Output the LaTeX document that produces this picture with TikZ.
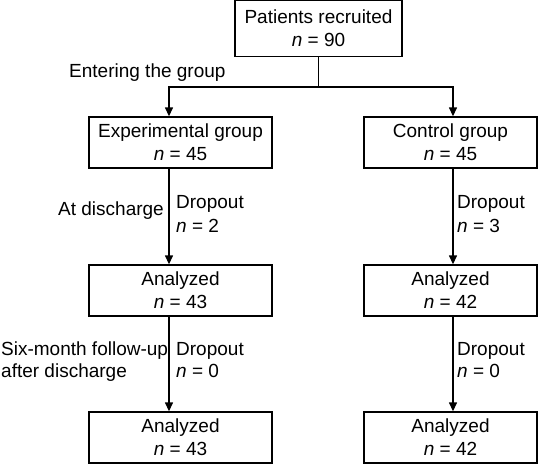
\documentclass[tikz,border=0pt]{standalone}
\usepackage{fontspec}
\setmainfont{Liberation Sans}
\usetikzlibrary{arrows.meta}
\begin{document}
\begin{tikzpicture}[x=1pt,y=-1pt,
  box/.style={draw,line width=1.4pt,inner sep=0pt,align=center,font=\fontsize{19}{23}\selectfont},
  lbl/.style={inner sep=0pt,font=\fontsize{19}{23}\selectfont},
  conn/.style={line width=1.4pt},
  arr/.style={line width=1.4pt,-{Triangle[length=9pt,width=8pt]}}]
\useasboundingbox (0,0) rectangle (539,464);
\fill[white] (0,0) rectangle (539,464);
% boxes
\node[box,minimum width=167pt,minimum height=56pt] (top) at (318.5,28.5) {Patients recruited\\\textit{n} = 90};
\node[box,minimum width=183pt,minimum height=51pt] (exp) at (180.5,142.5) {Experimental group\\\textit{n} = 45};
\node[box,minimum width=173pt,minimum height=51pt] (ctrl) at (450.5,142.5) {Control group\\\textit{n} = 45};
\node[box,minimum width=183pt,minimum height=51pt] (anaL) at (180.5,290.5) {Analyzed\\\textit{n} = 43};
\node[box,minimum width=173pt,minimum height=51pt] (anaR) at (450.5,290.5) {Analyzed\\\textit{n} = 42};
\node[box,minimum width=183pt,minimum height=51pt] (finL) at (180.5,437.5) {Analyzed\\\textit{n} = 43};
\node[box,minimum width=173pt,minimum height=51pt] (finR) at (450.5,437.5) {Analyzed\\\textit{n} = 42};
% helper coordinates
\coordinate (lx) at (169,0);
\coordinate (rx) at (453,0);
\coordinate (split) at (318.5,87);
% connectors
\draw[conn] (top.south) -- (split);
\draw[arr] (split) -| (exp.north -| lx);
\draw[arr] (split) -| (ctrl.north -| rx);
\draw[arr] (exp.south -| lx) -- (anaL.north -| lx);
\draw[arr] (ctrl.south -| rx) -- (anaR.north -| rx);
\draw[arr] (anaL.south -| lx) -- (finL.north -| lx);
\draw[arr] (anaR.south -| rx) -- (finR.north -| rx);
% labels
\node[lbl,anchor=base west] (enter) at (69,77) {Entering the group};
\node[lbl,anchor=base east] (atdis) at (164,215) {At discharge};
\node[lbl,anchor=base west] (dL1) at (176,208) {Dropout};
\node[lbl,anchor=base west] (dL2) at (176,232) {\textit{n} = 2};
\node[lbl,anchor=base west] (dR1) at (457,208) {Dropout};
\node[lbl,anchor=base west] (dR2) at (457,232) {\textit{n} = 3};
\node[lbl,anchor=base west] (six) at (1,355) {Six-month follow-up};
\node[lbl,anchor=base west] (after) at (1,377) {after discharge};
\node[lbl,anchor=base west] (dL3) at (176,355) {Dropout};
\node[lbl,anchor=base west] (dL4) at (176,377) {\textit{n} = 0};
\node[lbl,anchor=base west] (dR3) at (457,355) {Dropout};
\node[lbl,anchor=base west] (dR4) at (457,377) {\textit{n} = 0};
\end{tikzpicture}
\end{document}
